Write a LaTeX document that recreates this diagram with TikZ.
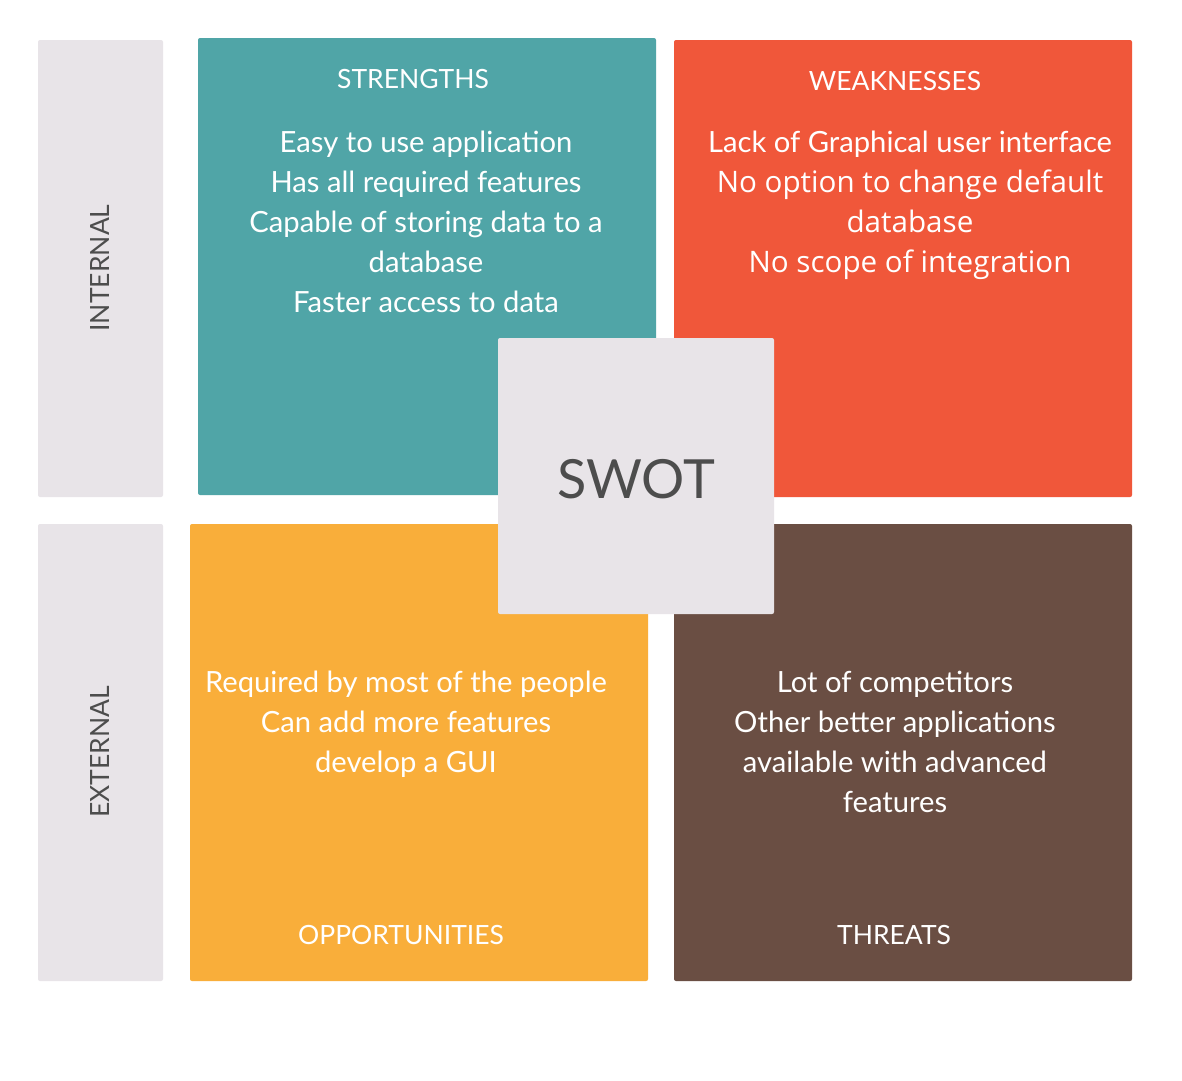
\documentclass[tikz,border=0pt]{standalone}
\usepackage{fontspec}
\setmainfont{Lato}
\newfontfamily\altsans{Open Sans}
\definecolor{sideband}{HTML}{E8E4E8}
\definecolor{teal}{HTML}{50A5A7}
\definecolor{redorange}{HTML}{F0573A}
\definecolor{amber}{HTML}{F9AE3A}
\definecolor{cocoa}{HTML}{6A4E43}
\definecolor{inkgrey}{HTML}{4D4D4D}
\begin{document}
\begin{tikzpicture}[x=1pt,y=-1pt,
  panel/.style={rounded corners=2pt, draw=none},
  paneltitle/.style={text=white, font=\fontsize{26.5}{30}\selectfont, inner sep=0pt},
  paneltext/.style={text=white, align=center, inner sep=0pt,
    font=\fontsize{29.2}{40}\selectfont},
  sidelabel/.style={text=inkgrey, rotate=90, inner sep=0pt,
    font=\fontsize{26.5}{30}\selectfont}]
\useasboundingbox (0,0) rectangle (1182,1080);
\fill[white] (0,0) rectangle (1182,1080);
% side bands
\fill[panel, sideband] (38,40) rectangle (163,497);
\fill[panel, sideband] (38,524) rectangle (163,981);
\node[sidelabel] (internal) at (100,268) {INTERNAL};
\node[sidelabel] (external) at (100,752) {EXTERNAL};
% quadrants
\fill[panel, teal] (198,38) rectangle (656,495);
\fill[panel, redorange] (674,40) rectangle (1132,497);
\fill[panel, amber] (190,524) rectangle (648,981);
\fill[panel, cocoa] (674,524) rectangle (1132,981);
% strengths
\node[paneltitle] (stitle) at (413,79) {STRENGTHS};
\node[paneltext] (sbody) at (426,222) {Easy to use application\\Has all required features\\Capable of storing data to a\\database\\Faster access to data};
% weaknesses (last three lines set in a second sans face)
\node[paneltitle] (wtitle) at (895,81) {WEAKNESSES};
\node[paneltext] (wbody) at (910,205) {Lack of Graphical user interface\\{\altsans\fontsize{29.6}{40}\selectfont No option to change default}\\{\altsans\fontsize{29.6}{40}\selectfont database}\\{\altsans\fontsize{29.6}{40}\selectfont No scope of integration}};
% opportunities
\node[paneltext] (obody) at (406,724) {Required by most of the people\\Can add more features\\develop a GUI};
\node[paneltitle] (otitle) at (401,935) {OPPORTUNITIES};
% threats
\node[paneltext] (tbody) at (895,742) {Lot of competitors\\Other better applications\\available with advanced\\features};
\node[paneltitle] (ttitle) at (894,935) {THREATS};
% centre square
\fill[panel, sideband] (498,338) rectangle (774,614);
\node[text=inkgrey, inner sep=0pt, font=\fontsize{54}{64}\selectfont] (swot) at (636,479) {SWOT};
\end{tikzpicture}
\end{document}
